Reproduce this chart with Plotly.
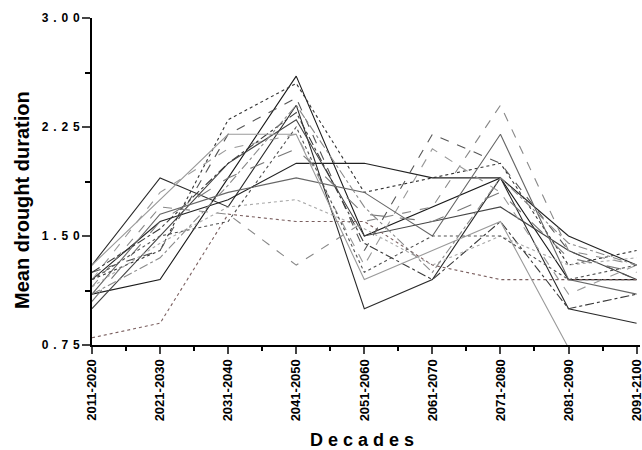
import plotly.graph_objects as go

decades = ["2011-2020", "2021-2030", "2031-2040", "2041-2050", "2051-2060",
           "2061-2070", "2071-2080", "2081-2090", "2091-2100"]

# Mean drought duration per decade, one list per model run
run_01 = [1.10, 1.20, 1.90, 2.60, 1.50, 1.70, 1.90, 1.20, 1.20]
run_02 = [1.30, 1.90, 1.70, 2.40, 1.00, 1.20, 1.90, 1.00, 0.90]
run_03 = [1.20, 1.60, 1.75, 2.00, 2.00, 1.90, 1.90, 1.50, 1.30]
run_04 = [1.00, 1.50, 2.00, 2.30, 1.50, 1.60, 1.70, 1.40, 1.20]
run_05 = [1.20, 1.40, 2.30, 2.55, 1.80, 1.90, 2.00, 1.30, 1.40]
run_06 = [0.80, 0.90, 1.65, 1.60, 1.60, 1.30, 1.20, 1.20, 1.20]
run_07 = [1.15, 1.70, 1.65, 1.30, 1.60, 1.70, 2.40, 1.40, 1.30]
run_08 = [1.25, 1.40, 2.20, 2.45, 1.40, 2.20, 2.00, 1.40, 1.20]
run_09 = [1.20, 1.80, 2.10, 2.20, 1.30, 2.10, 1.80, 1.10, 1.30]
run_10 = [1.10, 1.65, 1.80, 1.90, 1.80, 1.50, 2.20, 1.20, 1.10]
run_11 = [1.25, 1.55, 2.00, 2.35, 1.45, 1.20, 1.60, 1.00, 1.10]
run_12 = [1.30, 1.75, 2.20, 2.20, 1.20, 1.40, 1.60, 0.73, 0.70]
run_13 = [1.15, 1.45, 1.70, 1.75, 1.55, 1.30, 1.50, 1.30, 1.35]
run_14 = [1.05, 1.60, 1.90, 2.10, 1.65, 1.60, 1.80, 1.35, 1.25]
run_15 = [1.20, 1.50, 1.60, 2.25, 1.25, 1.50, 1.50, 1.20, 1.30]
run_16 = [1.10, 1.35, 1.85, 2.40, 1.70, 1.25, 1.90, 1.45, 1.30]

runs = [run_01, run_02, run_03, run_04, run_05, run_06, run_07, run_08,
        run_09, run_10, run_11, run_12, run_13, run_14, run_15, run_16]

styles = [
    ("#1a1a1a", "solid"), ("#2a2a2a", "solid"), ("#222222", "solid"),
    ("#444444", "solid"), ("#333333", "dot"), ("#7a5f5f", "dot"),
    ("#888888", "dash"), ("#555555", "dash"), ("#999999", "dash"),
    ("#666666", "solid"), ("#3a3a3a", "dashdot"), ("#9a9a9a", "solid"),
    ("#aaaaaa", "dot"), ("#777777", "longdash"), ("#505050", "dot"),
    ("#8a8a8a", "dashdot"),
]

x = list(range(len(decades)))

fig = go.Figure()
for vals, (col, dash) in zip(runs, styles):
    fig.add_trace(go.Scatter(x=x, y=vals, mode="lines",
                             line=dict(color=col, width=1.1, dash=dash),
                             showlegend=False, hoverinfo="skip"))

bold = dict(family="Liberation Sans, Arial, sans-serif", color="black", weight="bold")
thin = "\u2009"

ytick_vals = [0.75, 1.50, 2.25, 3.00]
ytick_text = [(thin * 2).join(f"{v:.2f}") for v in ytick_vals]

fig.update_layout(
    width=642, height=450,
    margin=dict(l=92, r=2, t=18, b=105),
    paper_bgcolor="white", plot_bgcolor="white",
    xaxis=dict(
        range=[0, 8.05], tickvals=x, ticktext=decades, tickangle=-90,
        tickfont=dict(size=13, **bold), ticks="outside", ticklen=7, tickwidth=2,
        ticklabeloverflow="allow",
        minor=dict(tickvals=[i + 0.5 for i in range(8)], ticks="outside",
                   ticklen=4, tickwidth=2, tickcolor="black"),
        showline=True, linecolor="black", linewidth=2, showgrid=False,
        zeroline=False, automargin=False,
    ),
    yaxis=dict(
        range=[0.75, 3.0], tickvals=ytick_vals, ticktext=ytick_text,
        tickfont=dict(size=12, **bold), ticks="outside", ticklen=8, tickwidth=2,
        minor=dict(tickvals=[1.125, 1.875, 2.625], ticks="outside",
                   ticklen=5, tickwidth=2, tickcolor="black"),
        showline=True, linecolor="black", linewidth=2, showgrid=False,
        zeroline=False, automargin=False,
    ),
    annotations=[
        dict(text="Mean drought duration", xref="paper", yref="paper",
             x=-0.128, y=0.443, xanchor="center", yanchor="middle", textangle=-90,
             showarrow=False, font=dict(size=20, **bold)),
        dict(text=" ".join("Decades"), xref="paper", yref="paper",
             x=0.493, y=-0.29, xanchor="center", yanchor="middle",
             showarrow=False, font=dict(size=18, **bold)),
    ],
)

fig.write_html("out.html")
